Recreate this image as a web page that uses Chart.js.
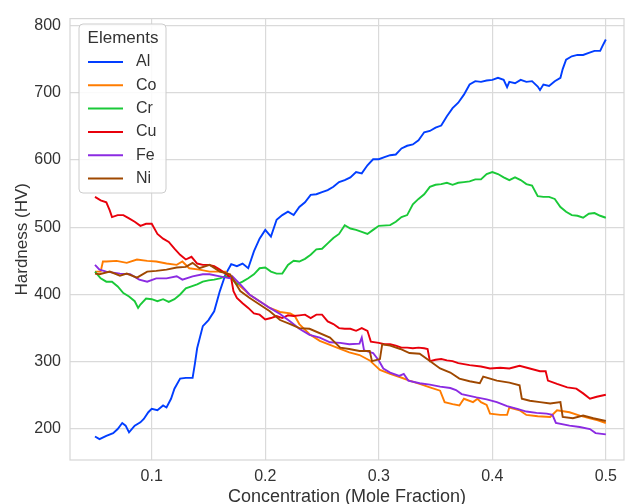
<!DOCTYPE html>
<html>
<head>
<meta charset="utf-8">
<script src="https://cdn.jsdelivr.net/npm/chart.js@4/dist/chart.umd.min.js"></script>
<style>
html,body{margin:0;padding:0;background:#fff;overflow:hidden;}
#wrap{width:625px;height:504px;}
</style>
</head>
<body>
<div id="wrap"><canvas id="c" width="625" height="504"></canvas></div>
<script>
const elements = ["Al","Co","Cr","Cu","Fe","Ni"];
const colors = ["#023eff","#ff7c00","#1ac938","#e8000b","#8b2be2","#9f4800"];
const xTicks = [0.1,0.2,0.3,0.4,0.5];
const yTicks = [200,300,400,500,600,700,800];

const alX = [0.05,0.054,0.06,0.066,0.07,0.074,0.077,0.08,0.085,0.09,0.093,0.097,0.1,0.105,0.11,0.113,0.117,0.12,0.125,0.13,0.136,0.138,0.14,0.145,0.15,0.155,0.16,0.165,0.17,0.175,0.18,0.185,0.19,0.195,0.2,0.205,0.21,0.215,0.22,0.225,0.23,0.235,0.24,0.245,0.25,0.255,0.26,0.265,0.27,0.275,0.28,0.285,0.29,0.295,0.3,0.305,0.31,0.315,0.32,0.325,0.33,0.335,0.34,0.345,0.35,0.355,0.36,0.365,0.37,0.375,0.38,0.385,0.39,0.395,0.4,0.405,0.41,0.413,0.415,0.42,0.425,0.43,0.435,0.44,0.442,0.445,0.45,0.455,0.46,0.462,0.465,0.47,0.475,0.48,0.485,0.49,0.495,0.497,0.5];
const alY = [189,185,190,194,200,209,205,195,205,210,215,225,230,228,235,232,245,260,275,276,276,297,320,353,362,375,405,430,445,442,446,439,464,483,496,486,511,518,523,518,530,537,548,549,552,555,560,567,570,574,582,580,592,601,601,604,607,608,617,621,623,629,641,643,648,651,665,677,685,697,712,717,716,718,719,722,719,708,716,714,719,716,717,709,704,712,710,717,722,735,749,754,756,756,759,762,762,769,779];

const coX = [0.05,0.055,0.057,0.06,0.069,0.078,0.087,0.096,0.104,0.113,0.122,0.127,0.133,0.142,0.151,0.16,0.165,0.169,0.178,0.186,0.195,0.204,0.213,0.222,0.226,0.23,0.239,0.248,0.257,0.266,0.274,0.283,0.292,0.301,0.31,0.319,0.327,0.336,0.345,0.354,0.358,0.365,0.371,0.375,0.383,0.387,0.39,0.395,0.398,0.407,0.413,0.415,0.424,0.43,0.44,0.451,0.457,0.468,0.477,0.486,0.493,0.5];
const coY = [434,434,449,449,450,447,452,450,449,446,444,449,439,437,434,434,434,427,412,400,390,380,374,372,368,356,341,331,325,319,314,310,302,288,282,277,272,267,262,257,240,237,235,245,240,245,240,236,223,221,221,232,228,221,219,218,228,225,220,216,213,209];

const crX = [0.05,0.055,0.06,0.065,0.07,0.075,0.08,0.085,0.088,0.09,0.095,0.1,0.105,0.11,0.115,0.12,0.125,0.13,0.135,0.14,0.145,0.15,0.155,0.16,0.165,0.17,0.175,0.18,0.185,0.19,0.195,0.2,0.205,0.21,0.215,0.22,0.225,0.23,0.235,0.24,0.245,0.25,0.255,0.26,0.265,0.27,0.275,0.28,0.285,0.29,0.295,0.3,0.31,0.315,0.32,0.325,0.33,0.335,0.34,0.345,0.35,0.355,0.36,0.365,0.37,0.375,0.38,0.385,0.39,0.395,0.4,0.405,0.41,0.415,0.42,0.425,0.43,0.435,0.44,0.445,0.45,0.455,0.46,0.465,0.47,0.475,0.48,0.485,0.49,0.495,0.5];
const crY = [434,424,419,419,412,402,397,390,380,385,394,393,390,393,389,393,400,409,412,415,419,421,422,424,427,424,415,419,424,430,439,440,434,431,431,444,450,449,453,459,467,468,476,484,490,503,498,496,493,490,496,502,503,508,515,518,534,542,549,560,563,564,566,563,566,567,568,571,571,579,582,579,574,570,574,570,564,562,546,545,545,542,530,523,518,517,514,520,521,517,514];

const cuX = [0.05,0.055,0.06,0.063,0.065,0.07,0.075,0.08,0.085,0.09,0.095,0.1,0.105,0.11,0.115,0.12,0.125,0.13,0.135,0.14,0.145,0.15,0.155,0.16,0.165,0.17,0.172,0.175,0.18,0.185,0.19,0.195,0.2,0.205,0.21,0.215,0.22,0.225,0.23,0.235,0.24,0.245,0.25,0.255,0.26,0.265,0.27,0.275,0.28,0.285,0.29,0.293,0.3,0.305,0.31,0.315,0.32,0.325,0.33,0.335,0.34,0.343,0.345,0.35,0.355,0.36,0.365,0.37,0.38,0.39,0.398,0.407,0.415,0.424,0.433,0.442,0.447,0.449,0.457,0.466,0.474,0.48,0.486,0.492,0.5];
const cuY = [545,540,537,525,515,518,518,513,508,502,505,505,490,483,478,468,459,452,456,446,444,444,442,437,431,424,405,395,387,380,372,370,363,365,368,365,369,368,369,370,365,370,370,360,356,350,349,349,346,350,346,330,328,326,326,324,321,321,320,321,320,319,301,303,304,302,301,298,295,293,290,291,290,294,290,286,286,272,267,262,260,253,245,248,251];

const feX = [0.05,0.054,0.06,0.072,0.081,0.089,0.096,0.104,0.113,0.122,0.127,0.136,0.145,0.151,0.16,0.169,0.171,0.178,0.186,0.195,0.204,0.213,0.222,0.23,0.239,0.248,0.257,0.266,0.274,0.283,0.285,0.287,0.295,0.3,0.304,0.31,0.318,0.322,0.326,0.336,0.345,0.354,0.363,0.368,0.373,0.386,0.395,0.404,0.413,0.422,0.43,0.439,0.448,0.453,0.456,0.468,0.477,0.486,0.491,0.5];
const feY = [444,437,434,431,430,422,419,424,424,427,422,427,430,430,427,424,427,415,400,390,380,371,360,349,340,336,329,328,326,327,336,317,313,302,290,284,279,282,272,268,266,263,261,258,252,247,244,240,234,230,226,224,223,221,209,205,203,200,194,192];

const niX = [0.05,0.054,0.063,0.072,0.078,0.087,0.096,0.104,0.113,0.122,0.13,0.136,0.142,0.151,0.16,0.169,0.178,0.186,0.195,0.204,0.213,0.222,0.23,0.239,0.257,0.266,0.274,0.283,0.292,0.294,0.301,0.303,0.31,0.319,0.327,0.336,0.345,0.354,0.363,0.371,0.38,0.389,0.392,0.404,0.415,0.424,0.426,0.433,0.442,0.451,0.46,0.462,0.471,0.48,0.489,0.5];
const niY = [431,430,434,428,431,425,434,435,437,440,441,447,439,444,434,430,405,395,385,375,362,356,350,349,336,321,319,316,316,301,304,326,324,319,313,312,301,290,284,275,271,268,278,272,269,265,245,242,240,238,240,218,216,220,216,212];

const seriesX = [alX, coX, crX, cuX, feX, niX];
const seriesY = [alY, coY, crY, cuY, feY, niY];

const datasets = elements.map((name, i) => ({
  label: name,
  data: seriesX[i].map((x, k) => ({x: x, y: seriesY[i][k]})),
  borderColor: colors[i],
  backgroundColor: colors[i],
  borderWidth: 1.9,
  pointRadius: 0,
  tension: 0,
  fill: false,
  order: elements.length - i
}));

const FONT = "'Liberation Sans', Arial, sans-serif";
const TXT = '#333333';

const frame = {
  id: 'frame',
  beforeDatasetsDraw(chart) {
    const {ctx, chartArea: a} = chart;
    ctx.save();
    ctx.strokeStyle = '#d6d6d6';
    ctx.lineWidth = 1.2;
    ctx.strokeRect(a.left, a.top, a.right - a.left, a.bottom - a.top);
    ctx.restore();
  }
};

const legendBox = {
  id: 'legendBox',
  afterDatasetsDraw(chart) {
    const ctx = chart.ctx;
    ctx.save();
    const bx = 79, by = 24, bw = 87, bh = 169, r = 4;
    ctx.beginPath();
    ctx.moveTo(bx + r, by);
    ctx.arcTo(bx + bw, by, bx + bw, by + bh, r);
    ctx.arcTo(bx + bw, by + bh, bx, by + bh, r);
    ctx.arcTo(bx, by + bh, bx, by, r);
    ctx.arcTo(bx, by, bx + bw, by, r);
    ctx.closePath();
    ctx.fillStyle = 'rgba(255,255,255,0.85)';
    ctx.fill();
    ctx.strokeStyle = '#cccccc';
    ctx.lineWidth = 1;
    ctx.stroke();
    ctx.fillStyle = TXT;
    ctx.textBaseline = 'middle';
    ctx.textAlign = 'center';
    ctx.font = '17px ' + FONT;
    ctx.fillText('Elements', 123, 38);
    ctx.textAlign = 'left';
    ctx.font = '16px ' + FONT;
    elements.forEach((name, i) => {
      const y = 62 + i * 23.3;
      ctx.strokeStyle = colors[i];
      ctx.lineWidth = 2;
      ctx.beginPath();
      ctx.moveTo(88, y);
      ctx.lineTo(123, y);
      ctx.stroke();
      ctx.fillStyle = TXT;
      ctx.fillText(name, 136, y);
    });
    ctx.restore();
  }
};

new Chart(document.getElementById('c'), {
  type: 'line',
  data: { datasets },
  options: {
    responsive: false,
    animation: false,
    devicePixelRatio: 1,
    layout: { padding: { top: 15, right: 1, left: 0, bottom: 0 } },
    plugins: { legend: { display: false }, tooltip: { enabled: false } },
    scales: {
      x: {
        type: 'linear',
        min: 0.028,
        max: 0.516,
        afterBuildTicks(s) { s.ticks = xTicks.map(v => ({value: v})); },
        afterFit(s) { s.height = 44; },
        grid: { color: '#dadada', lineWidth: 1.2, drawTicks: false },
        border: { display: false },
        ticks: { padding: 7, color: TXT, font: { size: 16, family: FONT }, callback: v => String(v) },
        title: { display: true, text: 'Concentration (Mole Fraction)', color: TXT, font: { size: 18, family: FONT, lineHeight: 1 }, padding: { top: 0, bottom: -2 } }
      },
      y: {
        type: 'linear',
        min: 154,
        max: 810,
        afterBuildTicks(s) { s.ticks = yTicks.map(v => ({value: v})); },
        afterFit(s) { s.width = 70; },
        grid: { color: '#dadada', lineWidth: 1.2, drawTicks: false },
        border: { display: false },
        ticks: { padding: 9, color: TXT, font: { size: 16, family: FONT } },
        title: { display: true, text: 'Hardness (HV)', color: TXT, font: { size: 17, family: FONT, lineHeight: 1.2 }, padding: { top: 12, bottom: 0 } }
      }
    }
  },
  plugins: [frame, legendBox]
});
</script>
</body>
</html>
